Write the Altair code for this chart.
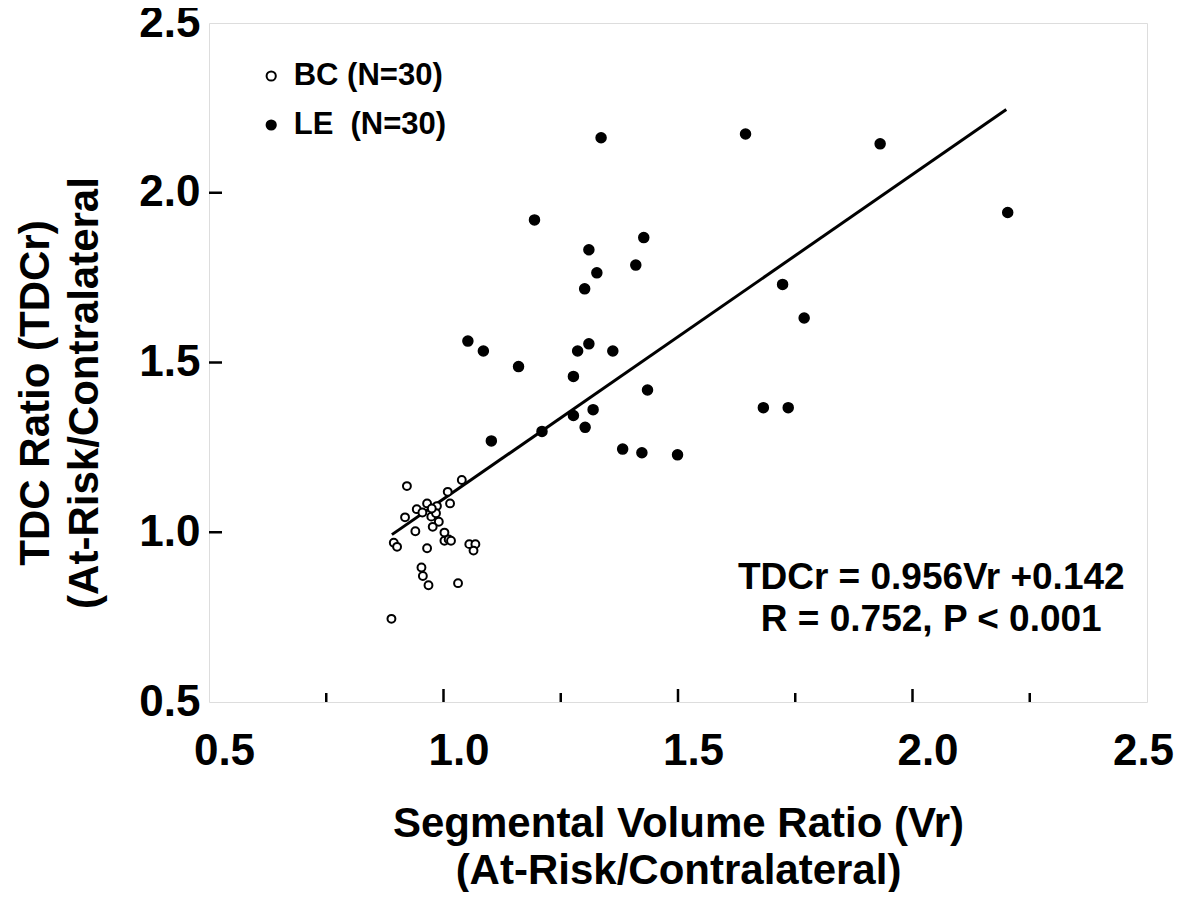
import altair as alt
import pandas as pd

# ---- data ----
le_x = [1.336, 1.644, 1.931, 1.194, 1.427, 1.310, 1.410, 1.327, 1.301, 1.723,
        1.769, 1.052, 1.085, 1.310, 1.286, 1.361, 1.160, 1.277, 1.435, 1.682,
        1.735, 1.319, 1.277, 1.210, 1.302, 1.102, 1.382, 1.423, 1.499, 2.203]
le_y = [2.162, 2.173, 2.144, 1.920, 1.868, 1.832, 1.787, 1.764, 1.717, 1.730,
        1.631, 1.563, 1.534, 1.555, 1.534, 1.534, 1.488, 1.459, 1.419, 1.367,
        1.367, 1.361, 1.344, 1.297, 1.309, 1.269, 1.245, 1.234, 1.228, 1.942]

bc_x = [0.922, 1.039, 1.009, 1.014, 0.965, 0.943, 0.986, 0.918, 0.955, 0.974,
        0.984, 0.990, 0.977, 0.940, 1.002, 1.002, 1.011, 1.016, 0.894, 0.901,
        0.965, 1.055, 1.068, 1.064, 0.953, 0.956, 0.968, 1.031, 0.889, 0.975]
bc_y = [1.136, 1.154, 1.119, 1.085, 1.085, 1.068, 1.077, 1.044, 1.058, 1.046,
        1.056, 1.031, 1.016, 1.003, 0.999, 0.975, 0.979, 0.975, 0.969, 0.957,
        0.953, 0.965, 0.965, 0.946, 0.896, 0.871, 0.844, 0.850, 0.745, 1.070]

groups = ["BC (N=30)", "LE\u00a0 (N=30)"]

line_x = [0.89, 2.20]
line_y = [0.993, 2.245]

ann_x = [2.04, 2.04]
ann_y = [0.865, 0.742]
ann_text = ["TDCr = 0.956Vr +0.142", "R = 0.752, P < 0.001"]

axis_values = [0.5, 1.0, 1.5, 2.0, 2.5]
x_major_ticks = [1.0, 1.5, 2.0]
x_minor_ticks = [0.75, 1.25, 1.75, 2.25]
y_major_ticks = [1.0, 1.5, 2.0]

x_title = ["Segmental Volume Ratio (Vr)", "(At-Risk/Contralateral)"]
y_title = ["TDC Ratio (TDCr)", "(At-Risk/Contralateral"]

# ---- tables ----
bc_df = pd.DataFrame({"x": bc_x, "y": bc_y, "g": [groups[0]] * len(bc_x)})
le_df = pd.DataFrame({"x": le_x, "y": le_y, "g": [groups[1]] * len(le_x)})
line_df = pd.DataFrame({"x": line_x, "y": line_y})
ann_df = pd.DataFrame({"x": ann_x, "y": ann_y, "t": ann_text})
xmaj_df = pd.DataFrame({"x": x_major_ticks})
xmin_df = pd.DataFrame({"x": x_minor_ticks})
ymaj_df = pd.DataFrame({"y": y_major_ticks})

W, H = 938, 679
FONT = "Liberation Sans"

xs = alt.Scale(domain=[0.5, 2.5], nice=False, zero=False)
ys = alt.Scale(domain=[0.5, 2.5], nice=False, zero=False)

xaxis = alt.Axis(values=axis_values, format=".1f", grid=False, domain=False,
                 ticks=False, tickSize=0, labelFlush=False, labelOverlap=False,
                 labelFontSize=44, labelFont=FONT, labelFontWeight="bold",
                 labelColor="black", labelPadding=27,
                 labelOffset={"condition": {"test": "datum.value >= 2.5", "value": -4},
                              "value": 15},
                 title=x_title, titleFont=FONT, titleFontSize=42,
                 titleFontWeight="bold", titleColor="black", titleLineHeight=47,
                 titleX=W / 2, titleY=101, titleAlign="center", titleBaseline="top")
yaxis = alt.Axis(values=axis_values, format=".1f", grid=False, domain=False,
                 ticks=False, tickSize=0, labelFlush=False, labelOverlap=False,
                 labelFontSize=44, labelFont=FONT, labelFontWeight="bold",
                 labelColor="black", labelPadding=9,
                 title=y_title, titleFont=FONT, titleFontSize=42,
                 titleFontWeight="bold", titleColor="black", titleLineHeight=49,
                 titleAngle=270, titleX=-194, titleY=H / 2 + 30, titleAlign="center",
                 titleBaseline="top")

X = alt.X("x:Q", scale=xs, axis=xaxis)
Y = alt.Y("y:Q", scale=ys, axis=yaxis)

legend = alt.Legend(title=None, orient="none", legendX=46.7, legendY=37.5,
                    labelFont=FONT, labelFontSize=31, labelFontWeight="bold",
                    labelColor="black", symbolType="circle", symbolSize=85,
                    symbolStrokeColor="black", symbolStrokeWidth=2,
                    symbolOpacity=1, labelOffset=7, rowPadding=17, padding=0)
FILL = alt.Fill("g:N", scale=alt.Scale(domain=groups, range=["white", "black"]),
                legend=legend)

xmaj = alt.Chart(xmaj_df).mark_rule(color="black", strokeWidth=2.5).encode(
    x=X, y=alt.value(H), y2=alt.value(H - 13))
xmin = alt.Chart(xmin_df).mark_rule(color="black", strokeWidth=2.5).encode(
    x=X, y=alt.value(H), y2=alt.value(H - 9))
ymaj = alt.Chart(ymaj_df).mark_rule(color="black", strokeWidth=2.5).encode(
    y=Y, x=alt.value(0), x2=alt.value(13))

reg = alt.Chart(line_df).mark_line(color="black", strokeWidth=3).encode(x=X, y=Y)

bc_pts = alt.Chart(bc_df).mark_circle(size=62, stroke="black", strokeWidth=2,
                                      opacity=1).encode(x=X, y=Y, fill=FILL)
le_pts = alt.Chart(le_df).mark_circle(size=100, stroke="black", strokeWidth=1.5,
                                      opacity=1).encode(x=X, y=Y, fill=FILL)

ann = alt.Chart(ann_df).mark_text(font=FONT, fontSize=37, fontWeight="bold",
                                  color="black", align="center", baseline="middle").encode(
    x=X, y=Y, text="t:N")

chart = alt.layer(xmaj, xmin, ymaj, reg, bc_pts, le_pts, ann).properties(
    width=W, height=H,
    autosize=alt.AutoSizeParams(type="none"),
    padding={"left": 201, "top": 15, "right": 28, "bottom": 190},
).configure_view(stroke="black", strokeWidth=3).configure(background="white")

chart.save("out.html", embed_options={"renderer": "svg", "actions": False})
